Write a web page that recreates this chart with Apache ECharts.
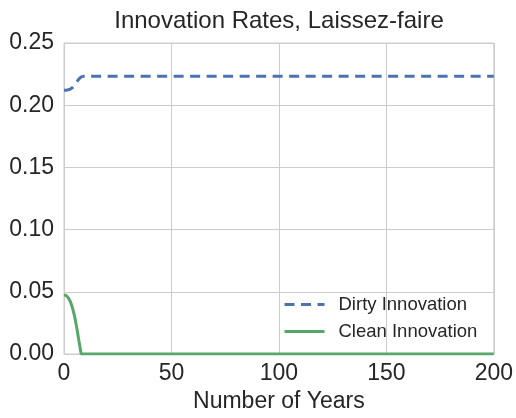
<!DOCTYPE html>
<html>
<head>
<meta charset="utf-8">
<script src="https://cdn.jsdelivr.net/npm/echarts@6/dist/echarts.min.js"></script>
<style>
html,body{margin:0;padding:0;background:#fff;}
#chart{width:516px;height:418px;}
</style>
</head>
<body>
<div id="chart"></div>
<script>
var titleText = "Innovation Rates, Laissez-faire";
var xAxisName = "Number of Years";
var seriesNames = ["Dirty Innovation", "Clean Innovation"];
// [year, rate] points (straight segments in between)
var dirtyData = [[0,0.2120],[1,0.2121],[2,0.2124],[3,0.2130],[4,0.2142],[5,0.2162],[6,0.2188],[7,0.2212],[8,0.2228],[9,0.2232],[10,0.2232],[200,0.2232]];
var cleanData = [[0,0.0475],[1,0.0470],[2,0.0452],[3,0.0420],[4,0.0368],[5,0.0298],[6,0.0205],[7,0.0100],[8,0.0000],[9,0.0000],[200,0.0000]];
var xTicks = [0,50,100,150,200];
var yTicks = [0,0.05,0.10,0.15,0.20,0.25];

var font = "'Liberation Sans', Arial, sans-serif";
var txt = "#262626";
var chart = echarts.init(document.getElementById('chart'), null, {renderer:'canvas'});
chart.setOption({
  animation:false,
  backgroundColor:'#fff',
  title:{text:titleText, left:274, top:4, textAlign:'center',
    textStyle:{fontFamily:font, fontSize:24, fontWeight:'normal', color:txt}},
  grid:{left:64, right:22, top:43, bottom:63, show:true, borderColor:'#cccccc', borderWidth:1, backgroundColor:'transparent'},
  legend:{
    data:[{name:seriesNames[0]},{name:seriesNames[1]}],
    orient:'vertical', left:278, top:290, itemWidth:40, itemHeight:14, itemGap:8,
    itemStyle:{opacity:0},
    lineStyle:{width:3},
    textStyle:{fontFamily:font, fontSize:18.5, color:txt, padding:[0,0,0,9]},
    backgroundColor:'transparent'
  },
  xAxis:{type:'value', min:xTicks[0], max:xTicks[xTicks.length-1], interval:50,
    name:xAxisName, nameLocation:'middle', nameGap:36,
    nameTextStyle:{fontFamily:font, fontSize:23, color:txt},
    axisLine:{show:true, lineStyle:{color:'#cccccc', width:1}},
    axisTick:{show:false},
    axisLabel:{fontFamily:font, fontSize:23, color:txt, margin:8},
    splitLine:{show:true, lineStyle:{color:'#cccccc', width:1}}},
  yAxis:{type:'value', min:yTicks[0], max:yTicks[yTicks.length-1], interval:0.05,
    axisLine:{show:true, lineStyle:{color:'#cccccc', width:1}},
    axisTick:{show:false},
    axisLabel:{fontFamily:font, fontSize:23, color:txt, margin:10, formatter:function(v){return v.toFixed(2);}},
    splitLine:{show:true, lineStyle:{color:'#cccccc', width:1}}},
  series:[
    {name:seriesNames[0], type:'line', data:dirtyData, symbol:'none', clip:true,
      lineStyle:{color:'#4c72b0', width:3, type:[10,6.5]}, itemStyle:{color:'#4c72b0'}},
    {name:seriesNames[1], type:'line', data:cleanData, symbol:'none', clip:true,
      lineStyle:{color:'#55a868', width:3}, itemStyle:{color:'#55a868'}}
  ]
});
</script>
</body>
</html>
